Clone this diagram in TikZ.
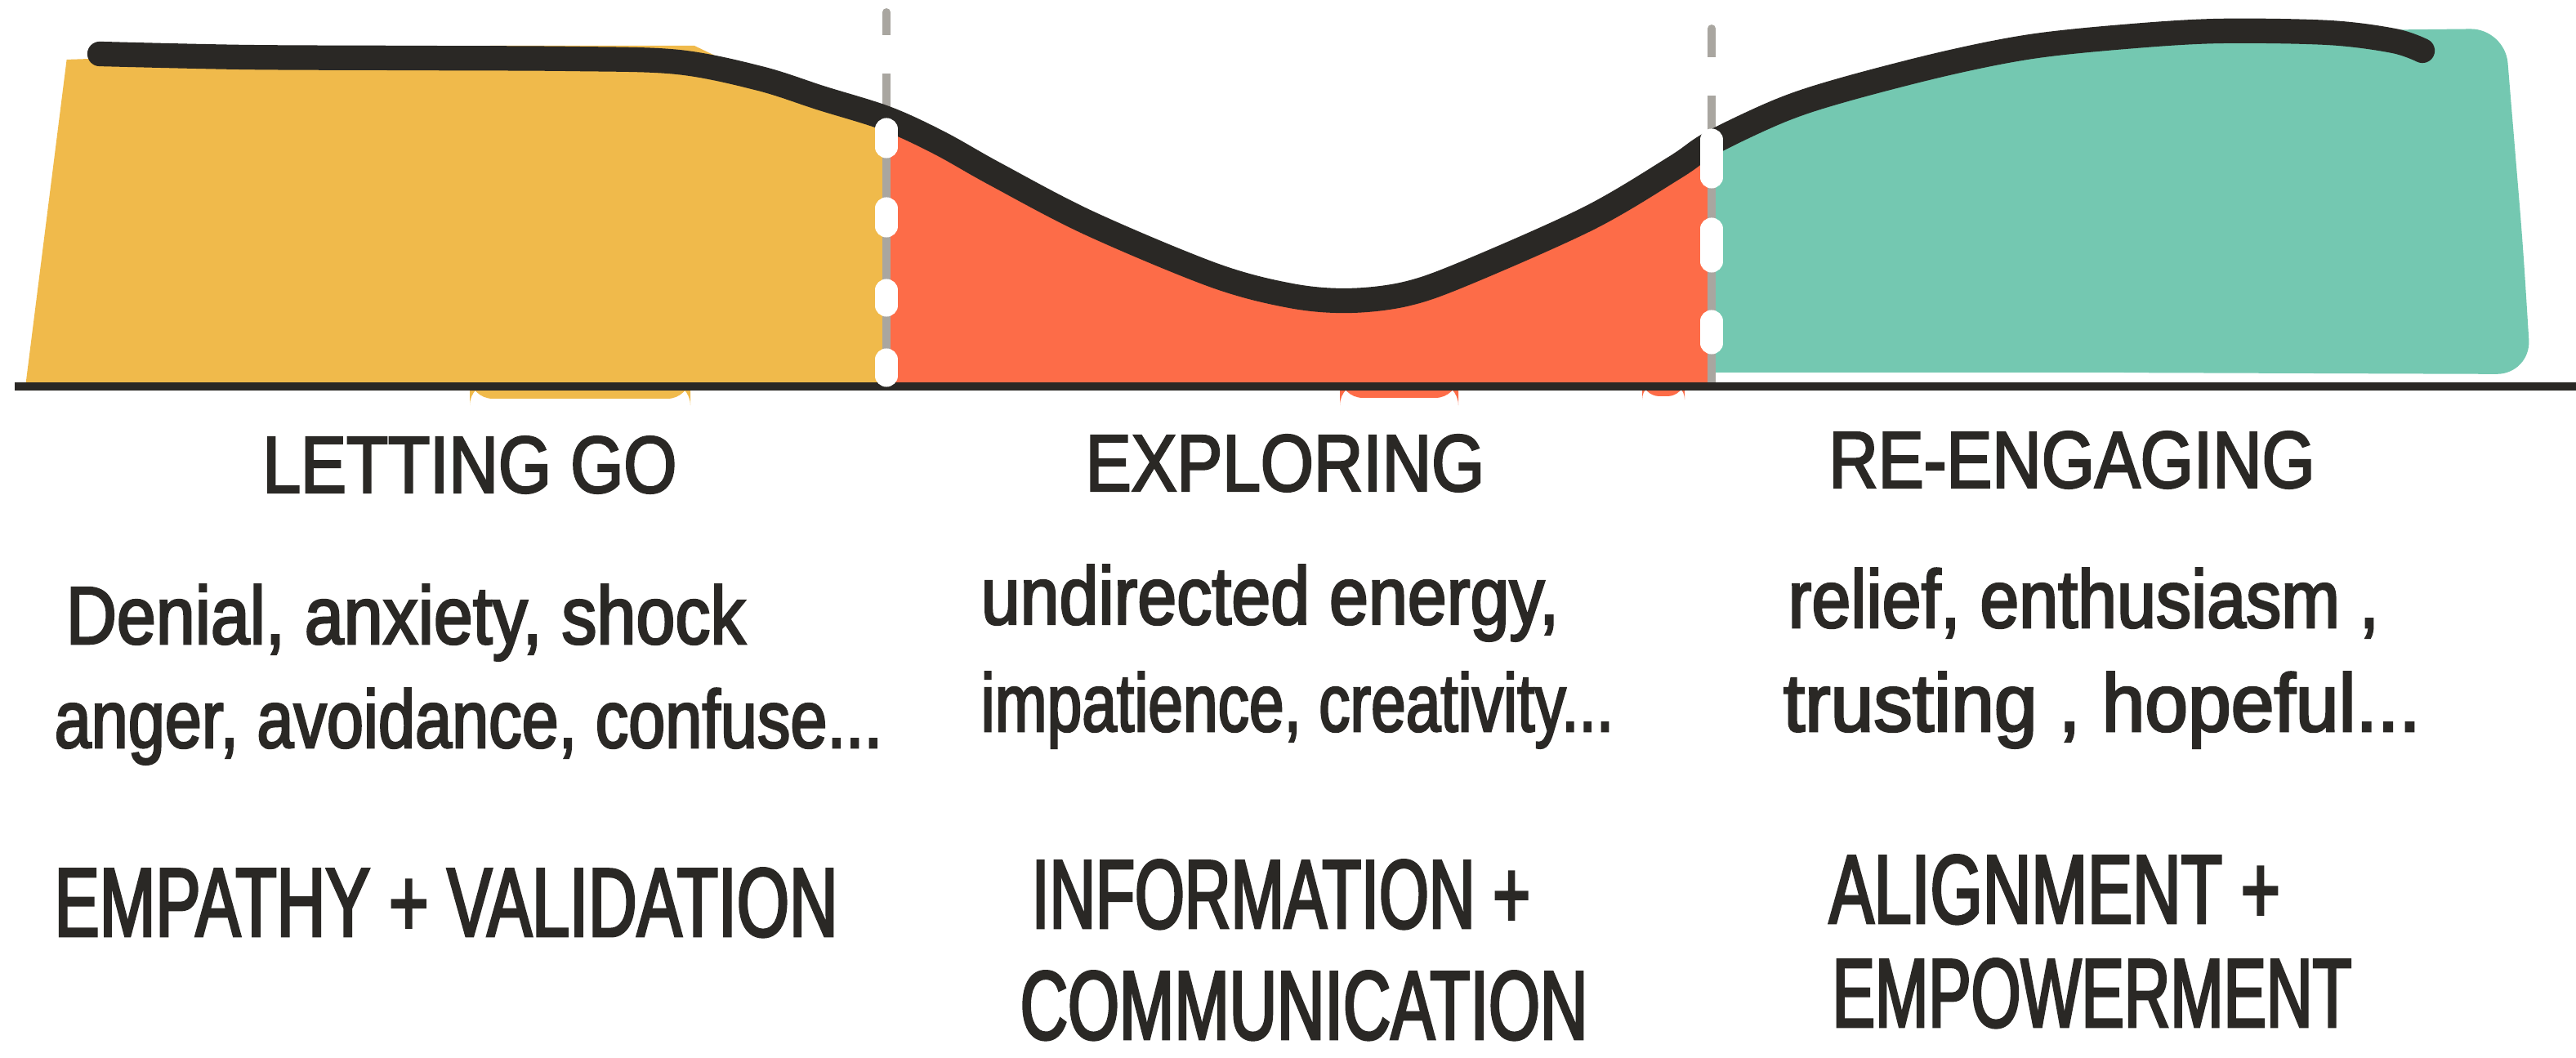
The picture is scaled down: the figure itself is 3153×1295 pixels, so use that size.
\documentclass[tikz,border=0pt]{standalone}
\usepackage{fontspec}
\setmainfont{Liberation Sans}
\newfontfamily\stagefont[FakeStretch=0.85,FakeBold=2.5]{Liberation Sans}
\newfontfamily\moodfont[FakeStretch=0.86,FakeBold=2.5]{Liberation Sans}
\newfontfamily\needfont[FakeStretch=0.69,FakeBold=2.5]{Liberation Sans}

\definecolor{ink}{HTML}{2A2825}
\definecolor{gold}{HTML}{F0BA4B}
\definecolor{coral}{HTML}{FD6C48}
\definecolor{mint}{HTML}{74C8B1}
\definecolor{rulegray}{HTML}{A9A6A0}

\tikzset{
  stage/.style={text=ink, font=\stagefont\fontsize{28}{30}\selectfont, inner sep=0pt},
  mood/.style={text=ink, font=\moodfont\fontsize{28.5}{30}\selectfont, inner sep=0pt, anchor=base west},
  need/.style={text=ink, font=\needfont\fontsize{34}{36}\selectfont, inner sep=0pt, text depth=0pt, anchor=base west},
  trail/.style={draw=ink, line width=8.6pt, line cap=round, line join=round},
  groundline/.style={draw=ink, line width=2.8pt},
  divider/.style={draw=rulegray, line width=2.8pt, line cap=round},
  gapmark/.style={draw=white, line width=7.7pt, line cap=round},
  thinmark/.style={draw=white, line width=2.8pt},
}

\begin{document}
\begin{tikzpicture}[x=0.01cm, y=-0.01cm]
  % canvas
  \fill[white] (0,0) rectangle (3153,1295);
  \useasboundingbox (0,0) rectangle (3153,1295);

  % area under the transition curve
  \path[save path=\underarea] (20,480) -- (20,75) -- (110,72) --
    plot[smooth, tension=0.55] coordinates {
      (122,66) (300,70) (500,71) (700,72) (830,76) (930,96) (1005,120)
      (1085,145) (1150,175) (1218,213) (1333,273) (1486,337) (1580,362)
      (1650,368) (1720,360) (1792,335) (1945,267) (2050,205) (2095,175)
      (2180,135) (2256,110) (2380,78) (2486,57) (2600,45) (2715,38)
      (2850,40) (2930,50) (2965,62)}
    -- (3100,480) -- cycle;

  % letting go
  \begin{scope}
    \clip (31,474) -- (82,70) -- (82,0) -- (1085,0) -- (1085,474) -- cycle;
    \fill[gold, use path=\underarea];
  \end{scope}
  \fill[gold] (480,68) -- (600,56) -- (850,56) -- (900,80) -- (480,80) -- cycle;
  \fill[gold, rounded corners=8] (575,468) rectangle (845,488);

  % exploring
  \begin{scope}
    \clip (1085,0) rectangle (2095,476);
    \fill[coral, use path=\underarea];
  \end{scope}
  \fill[coral, rounded corners=8] (1640,468) rectangle (1785,487);
  \fill[coral, rounded corners=6] (2010,468) rectangle (2062,485);

  % re-engaging
  \begin{scope}
    \clip (2095,0) rectangle (3060,456);
    \fill[mint, use path=\underarea];
  \end{scope}
  \fill[mint, rounded corners=12] (2560,75) -- (2600,40) -- (3066,35)
    -- (3088,300) -- (3098,458) -- (2560,456) -- cycle;

  % phase dividers
  \coordinate (d1top) at (1085,15);
  \coordinate (d1bot) at (1085,473);
  \coordinate (d2top) at (2095,35);
  \coordinate (d2bot) at (2095,473);
  \draw[divider] (d1top) -- (d1bot);
  \draw[divider] (d2top) -- (d2bot);

  % ground line
  \draw[groundline] (18,473) -- (3153,473);

  % transition curve
  \draw[trail] plot[smooth, tension=0.55] coordinates {
      (122,66) (300,70) (500,71) (700,72) (830,76) (930,96) (1005,120)
      (1085,145) (1150,175) (1218,213) (1333,273) (1486,337) (1580,362)
      (1650,368) (1720,360) (1792,335) (1945,267) (2050,205) (2095,175)
      (2180,135) (2256,110) (2380,78) (2486,57) (2600,45) (2715,38)
      (2850,40) (2930,50) (2965,62)};

  % white dashes over the dividers
  \draw[thinmark] (1085,43) -- (1085,90);
  \draw[gapmark] (1085,158) -- (1085,180);
  \draw[gapmark] (1085,255) -- (1085,277);
  \draw[gapmark] (1085,355) -- (1085,374);
  \draw[gapmark] (1085,440) -- (1085,460);
  \draw[thinmark] (2095,70) -- (2095,117);
  \draw[gapmark] (2095,171) -- (2095,217);
  \draw[gapmark] (2095,280) -- (2095,320);
  \draw[gapmark] (2095,393) -- (2095,420);

  % stage names
  \node[stage] (letgo) at (575,569) {LETTING GO};
  \node[stage] (explore) at (1573,567) {EXPLORING};
  \node[stage] (reengage) at (2536,563) {RE-ENGAGING};

  % feelings
  \node[mood] (moodAa) at (80,788) {Denial, anxiety, shock};
  \node[mood] (moodAb) at (66,915) {\scalebox{0.94}[1]{anger, avoidance, confuse...}};
  \node[mood] (moodBa) at (1200,764) {undirected energy,};
  \node[mood] (moodBb) at (1200,895) {\scalebox{0.89}[1]{impatience, creativity...}};
  \node[mood] (moodCa) at (2188,768) {relief, enthusiasm ,};
  \node[mood] (moodCb) at (2182,895) {\scalebox{1.1}[1]{trusting , hopeful...}};

  % what each stage needs
  \node[need] (needA) at (66,1146) {EMPATHY + VALIDATION};
  \node[need] (needBa) at (1262,1136) {\scalebox{0.95}[1]{INFORMATION +}};
  \node[need] (needBb) at (1248,1272) {\scalebox{0.98}[1]{COMMUNICATION}};
  \node[need] (needCa) at (2238,1130) {ALIGNMENT +};
  \node[need] (needCb) at (2242,1257) {\scalebox{0.95}[1]{EMPOWERMENT}};
\end{tikzpicture}
\end{document}
